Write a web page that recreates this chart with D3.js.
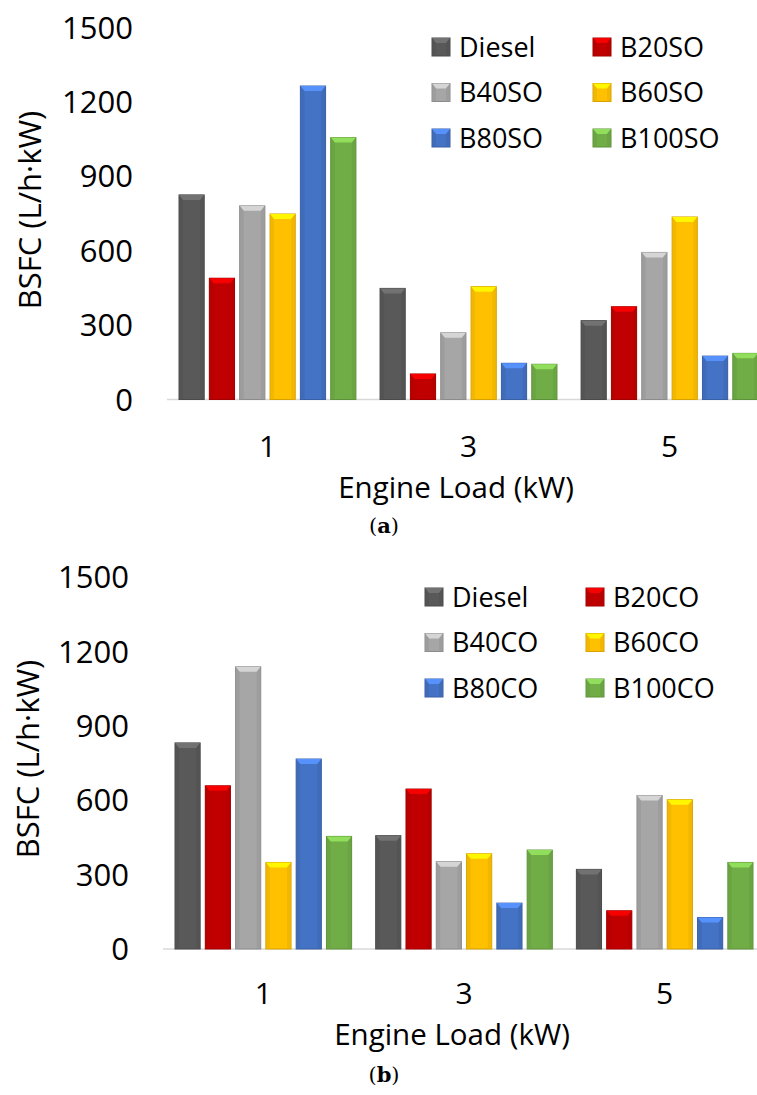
<!DOCTYPE html>
<html>
<head>
<meta charset="utf-8">
<script src="https://cdn.jsdelivr.net/npm/d3@7"></script>
<style>
  body { margin: 0; background: #fff; }
  svg { display: block; font-family: "Open Sans", sans-serif; }
</style>
</head>
<body>
<div id="vis-container"></div>
<script>
let width = 757;
let height = 1095;

// categories
let loads = ["1", "3", "5"];
let series_so = ["Diesel", "B20SO", "B40SO", "B60SO", "B80SO", "B100SO"];
let series_co = ["Diesel", "B20CO", "B40CO", "B60CO", "B80CO", "B100CO"];
let bar_colors = ["#595959", "#C00000", "#A6A6A6", "#FFC000", "#4472C4", "#70AD47"];
let y_ticks = [0, 300, 600, 900, 1200, 1500];

// BSFC values, one row per fuel, one entry per engine load (1, 3, 5 kW)
let bsfc_so = [
  [825, 448, 318],   // Diesel
  [489, 103, 374],   // B20SO
  [781, 269, 593],   // B40SO
  [748, 455, 736],   // B60SO
  [1264, 146, 175],  // B80SO
  [1056, 142, 186]   // B100SO
];
let bsfc_co = [
  [831, 457, 321],   // Diesel
  [658, 645, 154],   // B20CO
  [1138, 352, 619],  // B40CO
  [349, 384, 602],   // B60CO
  [766, 185, 127],   // B80CO
  [454, 399, 349]    // B100CO
];

// layout of the two panels
let panels = [
  { tag: "a", series: series_so, values: bsfc_so,
    base: 399.5, top: 27.5, x0: 179, x1: 758, axisStart: 167, tickRight: 133,
    labelY: 457, titleX: 456, titleY: 498, tagX: 384, tagY: 533,
    yTitleX: 41, yTitleY: 210, legX: 432, legX2: 593, legY: 47 },
  { tag: "b", series: series_co, values: bsfc_co,
    base: 949, top: 577, x0: 175, x1: 753, axisStart: 163, tickRight: 129,
    labelY: 1004, titleX: 452, titleY: 1045, tagX: 384, tagY: 1082,
    yTitleX: 39, yTitleY: 759, legX: 425, legX2: 586, legY: 597 }
];

let svg = d3.select("#vis-container").append("svg")
  .attr("width", width)
  .attr("height", height);

// bevelled bar, like the excel 3d-ish style
function bevelBar(g, x, y, w, h, c) {
  let col = d3.color(c);
  g.append("rect")
    .attr("x", x).attr("y", y)
    .attr("width", w).attr("height", h)
    .attr("fill", c)
    .attr("stroke", col.darker(0.5))
    .attr("stroke-width", 1);
  let b = Math.min(5, h / 2);
  g.append("path")
    .attr("d", `M${x},${y}L${x + w},${y}L${x + w - 4},${y + b}L${x + 4},${y + b}Z`)
    .attr("fill", col.brighter(0.7));
  g.append("path")
    .attr("d", `M${x},${y}L${x + 4},${y + b}L${x + 4},${y + h}L${x},${y + h}Z`)
    .attr("fill", col.darker(0.25)).attr("opacity", 0.6);
  g.append("path")
    .attr("d", `M${x + w},${y}L${x + w - 4},${y + b}L${x + w - 4},${y + h}L${x + w},${y + h}Z`)
    .attr("fill", col.darker(0.25)).attr("opacity", 0.6);
}

panels.forEach(function(p) {
  let g = svg.append("g");

  let y = d3.scaleLinear().domain([0, 1500]).range([p.base, p.top]);

  let x0 = d3.scaleBand().domain(loads)
    .range([p.x0, p.x1]).paddingInner(0.12).paddingOuter(0);
  let x1 = d3.scaleBand().domain(p.series)
    .range([0, x0.bandwidth()]).paddingInner(0.17);

  // baseline
  g.append("line")
    .attr("x1", p.axisStart).attr("x2", width)
    .attr("y1", y(0)).attr("y2", y(0))
    .attr("stroke", "#d9d9d9").attr("stroke-width", 1.5);

  // bars
  p.series.forEach(function(s, si) {
    loads.forEach(function(l, li) {
      let v = p.values[si][li];
      bevelBar(g, x0(l) + x1(s), y(v), x1.bandwidth(), y(0) - y(v), bar_colors[si]);
    });
  });

  // y tick labels
  g.selectAll("text.ytick")
    .data(y_ticks)
    .enter().append("text")
    .attr("class", "ytick")
    .attr("x", p.tickRight)
    .attr("y", d => y(d))
    .attr("dy", "0.36em")
    .attr("text-anchor", "end")
    .attr("font-size", 31)
    .attr("fill", "#000")
    .text(d => d);

  // x tick labels, centred under each group
  g.selectAll("text.xtick")
    .data(loads)
    .enter().append("text")
    .attr("class", "xtick")
    .attr("x", d => x0(d) + x0.bandwidth() / 2)
    .attr("y", p.labelY)
    .attr("text-anchor", "middle")
    .attr("font-size", 30)
    .text(d => d);

  // axis titles
  g.append("text")
    .attr("x", p.titleX)
    .attr("y", p.titleY)
    .attr("text-anchor", "middle")
    .attr("font-size", 29.5)
    .text("Engine Load (kW)");

  g.append("text")
    .attr("transform", `translate(${p.yTitleX},${p.yTitleY}) rotate(-90)`)
    .attr("text-anchor", "middle")
    .attr("font-size", 31)
    .text("BSFC (L/h·kW)");

  // panel tag
  let tag = g.append("text")
    .attr("x", p.tagX)
    .attr("y", p.tagY)
    .attr("text-anchor", "middle")
    .attr("font-family", "'DejaVu Serif', serif")
    .attr("font-size", 21);
  tag.append("tspan").text("(");
  tag.append("tspan").attr("font-weight", "bold").text(p.tag);
  tag.append("tspan").text(")");

  // legend, two columns x three rows
  let legend = g.selectAll("g.legend")
    .data(p.series)
    .enter().append("g")
    .attr("class", "legend")
    .attr("transform", function(d, i) {
      let lx = (i % 2 === 0) ? p.legX : p.legX2;
      let ly = p.legY + Math.floor(i / 2) * 45.5;
      return `translate(${lx},${ly})`;
    });

  legend.each(function(d, i) {
    bevelBar(d3.select(this), 0, -9, 18, 18, bar_colors[i]);
  });

  legend.append("text")
    .attr("x", 27)
    .attr("y", 0)
    .attr("dy", "0.36em")
    .attr("font-size", 27)
    .text(d => d);
});
</script>
</body>
</html>
